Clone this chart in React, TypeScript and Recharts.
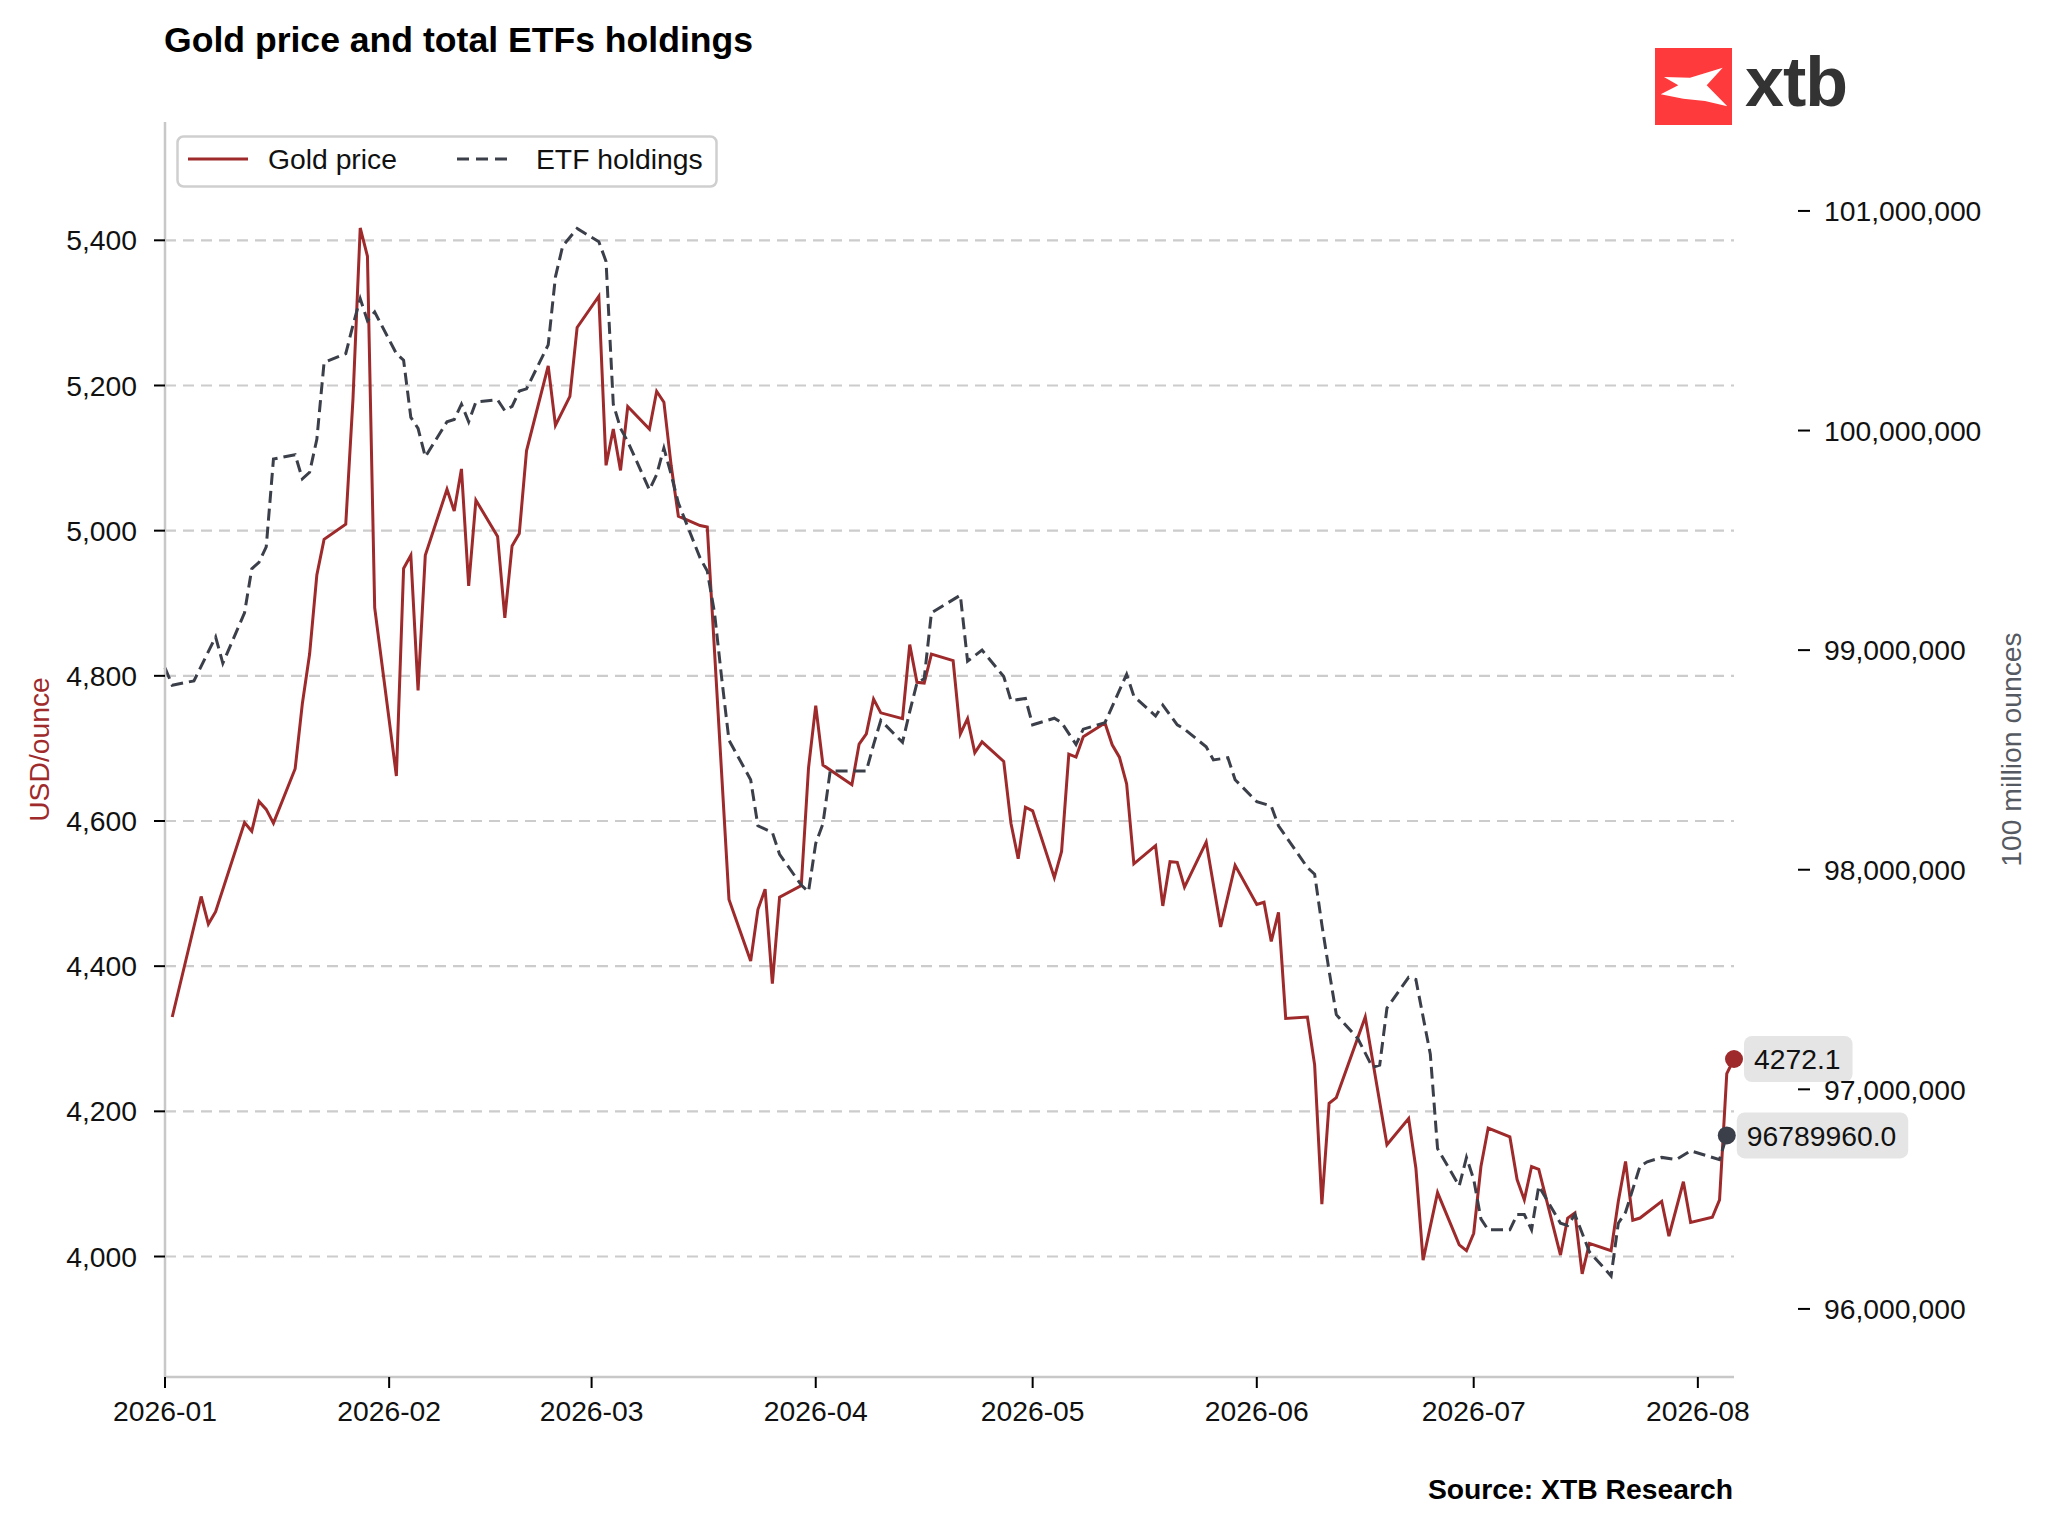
import React from 'react';
import { LineChart, Line, XAxis, YAxis, CartesianGrid, Legend, Label } from 'recharts';

// days counted from 2026-01-01 (day 0)
const goldDays = [
  1, 5, 6, 7, 11, 12, 13, 14, 15, 18, 19, 20, 21, 22, 25, 26, 27, 28, 29, 32, 33, 34, 35, 36, 39, 40, 41, 42, 43,
  46, 47, 48, 49, 50, 53, 54, 56, 57, 60, 61, 62, 63, 64, 67, 68, 69, 70, 71, 74, 75, 78, 81, 82, 83, 84, 85, 88,
  89, 90, 91, 95, 96, 97, 98, 99, 102, 103, 104, 105, 106, 109, 110, 111, 112, 113, 116, 117, 118, 119, 120, 123,
  124, 125, 126, 127, 130, 131, 132, 133, 134, 137, 138, 139, 140, 141, 144, 146, 148, 151, 152, 153, 154, 155,
  158, 159, 160, 161, 162, 166, 169, 172, 173, 174, 176, 179, 180, 181, 182, 183, 186, 187, 188, 189, 190, 193,
  194, 195, 196, 197, 200, 201, 202, 203, 204, 207, 208, 210, 211, 214, 215, 216, 217,
];
const goldPrice = [
  4330, 4496, 4458, 4475, 4598, 4586, 4627, 4616, 4597, 4672, 4762, 4830, 4939, 4988, 5009, 5182, 5417, 5378, 4894,
  4662, 4948, 4966, 4780, 4966, 5057, 5027, 5085, 4924, 5042,
  4992, 4880, 4979, 4996, 5110, 5227, 5145, 5185, 5280, 5323, 5090, 5140, 5083, 5171, 5140, 5192, 5177, 5090, 5020,
  5007, 5005, 4492, 4407, 4478, 4506, 4376, 4495, 4511,
  4673, 4759, 4677, 4650, 4706, 4720, 4768, 4749, 4741, 4843, 4791, 4790, 4830, 4821, 4720, 4741, 4694, 4709, 4682,
  4597, 4548, 4619, 4614, 4522,
  4558, 4692, 4688, 4716, 4735, 4705, 4688, 4651, 4541, 4566, 4483, 4544, 4543, 4509, 4571, 4454, 4539, 4485, 4488,
  4434, 4474, 4328,
  4330, 4264, 4072, 4211, 4219, 4330, 4154, 4190, 4122, 3995, 4088, 4016, 4008, 4032, 4124, 4177, 4165, 4106, 4078,
  4124, 4120, 4002,
  4053, 4060, 3976, 4018, 4008, 4076, 4131, 4050, 4053, 4076, 4028, 4103, 4047, 4054, 4078, 4252, 4272.1,
];

const etfDays = [
  0, 1, 4, 7, 8, 11, 12, 13, 14, 15, 18, 19, 20, 21, 22, 25, 26, 27, 28, 29, 32, 33, 34, 35, 36, 39, 40, 41, 42, 43,
  46, 47, 48, 49, 50, 53, 54, 55, 57, 60, 61, 62, 63, 64, 67, 68, 69, 70, 71, 74, 75, 76, 77, 78, 81, 82, 84, 85, 88,
  89, 90, 91, 92, 97, 98, 99, 102, 103, 104, 105, 106, 109, 110, 111, 113, 116, 117, 119, 120, 123, 124, 126, 127,
  130, 133, 134, 137, 138, 140, 141, 144, 145, 147, 148, 151, 153, 154, 158, 159, 160, 161, 162, 165, 167, 168, 169,
  172, 173, 175, 176, 179, 180, 181, 182, 183, 186, 187, 188, 189, 190, 193, 194, 195, 197, 200, 201, 202, 204, 205,
  207, 209, 211, 215, 216,
];
// millions of ounces
const etfHoldings = [
  98.92, 98.84, 98.86, 99.06, 98.94, 99.17, 99.37, 99.4, 99.47, 99.87, 99.89, 99.78, 99.81, 99.96, 100.31, 100.35,
  100.48, 100.6, 100.5, 100.54, 100.35, 100.32, 100.06, 100.01, 99.88, 100.04, 100.05, 100.12, 100.04, 100.13,
  100.14, 100.09, 100.11, 100.18, 100.19, 100.39, 100.7, 100.84, 100.92, 100.86, 100.77, 100.12, 100.01, 99.95,
  99.73, 99.8, 99.92, 99.8, 99.67, 99.42, 99.36, 99.17, 98.87, 98.59, 98.41, 98.2, 98.17, 98.07, 97.93,
  97.9, 98.12, 98.21, 98.45, 98.45, 98.57, 98.68, 98.58, 98.72, 98.85, 98.87, 99.17, 99.23, 99.25, 98.95, 99.0,
  98.88, 98.77, 98.78, 98.66, 98.69, 98.67, 98.57, 98.64,
  98.67, 98.89, 98.79, 98.7, 98.75, 98.66, 98.64, 98.56, 98.5, 98.51, 98.41, 98.31, 98.29, 98.2, 98.01, 97.98,
  97.75, 97.54, 97.34, 97.23, 97.1, 97.11, 97.37,
  97.51, 97.5, 97.16, 96.73, 96.56, 96.69, 96.59, 96.41, 96.36, 96.36, 96.43, 96.43, 96.36, 96.56, 96.39, 96.38,
  96.43, 96.26, 96.15, 96.39, 96.44, 96.65, 96.67,
  96.69, 96.68, 96.72, 96.68, 96.78996,
];

const monthTicks = [0, 31, 59, 90, 120, 151, 181, 212];
const monthLabels = ['2026-01', '2026-02', '2026-03', '2026-04', '2026-05', '2026-06', '2026-07', '2026-08'];
const goldTicks = [4000, 4200, 4400, 4600, 4800, 5000, 5200, 5400];
const etfTicks = [96000000, 97000000, 98000000, 99000000, 100000000, 101000000];

const goldData = goldDays.map((d, i) => ({ day: d, gold: goldPrice[i] }));
const etfData = etfDays.map((d, i) => ({ day: d, etf: etfHoldings[i] * 1e6 }));

const GOLD = '#9e2a2b';
const ETF = '#3b3f4a';
const FONT = '"Liberation Sans", Arial, Helvetica, sans-serif';
const FS = 28.3;

const fmtComma = (v: number) => v.toLocaleString('en-US');

const textWidth = (s: string) =>
  s.split('').reduce((w, c) => w + (c === '.' || c === ',' ? 0.278 : 0.556), 0) * FS;

const endMarker = (color: string, key: string, lastIndex: number) => (props: any) => {
  const { cx, cy, index, payload } = props;
  if (index !== lastIndex || cx == null) return <g key={`${key}-${index}`} />;
  const label = Number(payload[key]).toFixed(1);
  const w = textWidth(label) + 22;
  return (
    <g key={`${key}-${index}`}>
      <circle cx={cx} cy={cy} r={9} fill={color} />
      <rect x={cx + 10} y={cy - 23} width={w} height={46} rx={8} fill="#e5e5e5" />
      <text x={cx + 20} y={cy} dy="0.36em" fontSize={FS} fill="#111" fontFamily={FONT}>
        {label}
      </text>
    </g>
  );
};

const EtfTick = (props: any) => {
  const { x, y, payload } = props;
  return (
    <g>
      <line x1={x + 64} x2={x + 76} y1={y} y2={y} stroke="#000" strokeWidth={2} />
      <text x={x + 90} y={y} dy="0.36em" fontSize={FS} fill="#111" textAnchor="start">
        {fmtComma(payload.value)}
      </text>
    </g>
  );
};

// skip the line Recharts puts on the top edge of the plot
const GridLine = (props: any) => {
  const { x1, x2, y1, y2, y, stroke, strokeWidth, strokeDasharray } = props;
  if (y != null && Math.abs(y1 - y) < 1) return <g key={props.key} />;
  return (
    <line
      key={props.key}
      x1={x1}
      x2={x2}
      y1={y1}
      y2={y2}
      stroke={stroke}
      strokeWidth={strokeWidth}
      strokeDasharray={strokeDasharray}
      fill="none"
    />
  );
};

const LegendBox = () => (
  <svg width={542} height={53} style={{ display: 'block' }}>
    <rect x={1.5} y={1.5} width={539} height={50} rx={6} fill="#fff" stroke="#cfcfcf" strokeWidth={2.5} />
    <line x1={12} x2={72} y1={24} y2={24} stroke={GOLD} strokeWidth={3} />
    <text x={92} y={24} dy="0.36em" fontSize={FS} fill="#111" fontFamily={FONT}>Gold price</text>
    <line x1={281} x2={334} y1={24} y2={24} stroke={ETF} strokeWidth={3} strokeDasharray="12 7" />
    <text x={360} y={24} dy="0.36em" fontSize={FS} fill="#111" fontFamily={FONT}>ETF holdings</text>
  </svg>
);

const LeftTitle = (props: any) => {
  const vb = props.viewBox || { x: 0, y: 122, width: 165, height: 1255 };
  const cx = vb.x + 39;
  const cy = vb.y + vb.height / 2;
  return (
    <text x={cx} y={cy} transform={`rotate(-90 ${cx} ${cy})`} textAnchor="middle" dy="0.36em" fontSize={FS} fill={GOLD}>
      USD/ounce
    </text>
  );
};

const RightTitle = (props: any) => {
  const vb = props.viewBox || { x: 1734, y: 122, width: 314, height: 1255 };
  const cx = vb.x + 277;
  const cy = vb.y + vb.height / 2;
  return (
    <text x={cx} y={cy} transform={`rotate(-90 ${cx} ${cy})`} textAnchor="middle" dy="0.36em" fontSize={FS} fill="#555a62">
      100 million ounces
    </text>
  );
};

export default function App() {
  return (
    <div style={{ position: 'relative', width: 2048, height: 1530, fontFamily: FONT, background: '#fff' }}>
      <style>{`body{margin:0}`}</style>
      <LineChart width={2048} height={1530} margin={{ top: 122, right: 0, bottom: 93, left: 0 }}>
        <CartesianGrid
          yAxisId="gold"
          vertical={false}
          horizontal={GridLine}
          stroke="#cccccc"
          strokeWidth={2.2}
          strokeDasharray="11 7"
        />
        <XAxis
          dataKey="day"
          type="number"
          domain={[0, 217]}
          ticks={monthTicks}
          interval={0}
          tickFormatter={(v: number) => monthLabels[monthTicks.indexOf(v)] ?? ''}
          height={60}
          tickSize={11}
          tickMargin={13}
          axisLine={{ stroke: '#c8c8c8', strokeWidth: 2.5 }}
          tickLine={{ stroke: '#000', strokeWidth: 2 }}
          tick={{ fill: '#111', fontSize: FS }}
        />
        <YAxis
          yAxisId="gold"
          orientation="left"
          width={165}
          domain={[3834, 5563]}
          ticks={goldTicks}
          interval={0}
          tickFormatter={fmtComma}
          tickSize={11}
          tickMargin={17}
          axisLine={{ stroke: '#c8c8c8', strokeWidth: 2.5 }}
          tickLine={{ stroke: '#000', strokeWidth: 2 }}
          tick={{ fill: '#111', fontSize: FS }}
        >
          <Label content={LeftTitle} />
        </YAxis>
        <YAxis
          yAxisId="etf"
          orientation="right"
          width={314}
          domain={[95690000, 101405000]}
          ticks={etfTicks}
          interval={0}
          tickSize={0}
          tickMargin={0}
          axisLine={false}
          tickLine={false}
          tick={EtfTick}
        >
          <Label content={RightTitle} />
        </YAxis>
        <Legend
          layout="vertical"
          align="center"
          verticalAlign="middle"
          content={LegendBox}
          wrapperStyle={{ position: 'absolute', left: 176, top: 135, width: 542, height: 53 }}
        />
        <Line
          yAxisId="gold"
          data={goldData}
          dataKey="gold"
          name="Gold price"
          type="linear"
          stroke={GOLD}
          strokeWidth={3}
          dot={endMarker(GOLD, 'gold', goldData.length - 1)}
          activeDot={false}
          isAnimationActive={false}
        />
        <Line
          yAxisId="etf"
          data={etfData}
          dataKey="etf"
          name="ETF holdings"
          type="linear"
          stroke={ETF}
          strokeWidth={3}
          strokeDasharray="12 6"
          dot={endMarker(ETF, 'etf', etfData.length - 1)}
          activeDot={false}
          isAnimationActive={false}
        />
      </LineChart>
      <svg
        width={2048}
        height={1530}
        style={{ position: 'absolute', left: 0, top: 0, pointerEvents: 'none' }}
      >
        <text x={164} y={52} fontSize={35.6} fontWeight={700} fill="#000" fontFamily={FONT}>
          Gold price and total ETFs holdings
        </text>
        <text x={1733} y={1499} fontSize={28.3} fontWeight={700} fill="#000" textAnchor="end" fontFamily={FONT}>
          Source: XTB Research
        </text>
        <g transform="translate(1655,48)">
          <rect width={77} height={77} fill="#fe3a3c" />
          <polygon
            points="9,29 35,29.7 67.7,19.7 51.7,37.3 72.3,58.3 50,53 28.3,50.7 5.7,46.3 23.3,37.3"
            fill="#fff"
          />
        </g>
        <text x={1745} y={106} fontSize={70} fontWeight={700} fill="#333333" fontFamily={FONT} letterSpacing={-1}>
          xtb
        </text>
      </svg>
    </div>
  );
}
